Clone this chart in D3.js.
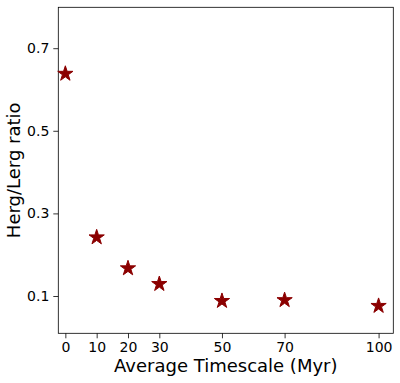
<!DOCTYPE html>
<html>
<head>
<meta charset="utf-8">
<script src="https://cdn.jsdelivr.net/npm/d3@7"></script>
<style>
  body { margin: 0; background: #fff; }
  text { font-family: "DejaVu Sans", sans-serif; fill: #000; }
</style>
</head>
<body>
<svg id="chart" width="400" height="383"></svg>
<script>
// timescale (Myr) and Herg/Lerg ratio
var timescales = [0, 10, 20, 30, 50, 70, 100];
var ratios = [0.638, 0.242, 0.167, 0.129, 0.088, 0.090, 0.076];
var xTicks = [0, 10, 20, 30, 50, 70, 100];
var yTicks = [0.1, 0.3, 0.5, 0.7];

var margin = {left: 58.3, top: 7.3, right: 6.7, bottom: 49.7},
  width = 400 - margin.left - margin.right,
  height = 383 - margin.top - margin.bottom;

var svg = d3.select("#chart");
var g = svg.append("g")
  .attr("transform", "translate(" + margin.left + "," + margin.top + ")");

var x = d3.scaleLinear().domain([-2.25, 104.7]).range([0, width]);
var y = d3.scaleLinear().domain([0.0097, 0.799]).range([height, 0]);

var xAxis = g.append("g")
  .attr("transform", "translate(0," + height + ")")
  .call(d3.axisBottom(x).tickValues(xTicks).tickSize(5).tickPadding(4));
var yAxis = g.append("g")
  .call(d3.axisLeft(y).tickValues(yTicks).tickFormat(d3.format(".1f")).tickSize(5).tickPadding(4));

[xAxis, yAxis].forEach(function(a){
  a.select(".domain").remove();
  a.selectAll("text").style("font-size", "14px").attr("font-family", null);
  a.selectAll("line").attr("stroke", "#000").attr("stroke-width", 0.8);
});

g.append("rect")
  .attr("width", width)
  .attr("height", height)
  .attr("fill", "none")
  .attr("stroke", "#000")
  .attr("stroke-width", 0.8);

var star = d3.symbol().type(d3.symbolStar).size(72);

g.selectAll("path.pt")
  .data(timescales)
  .enter()
  .append("path")
  .attr("class", "pt")
  .attr("d", star)
  .attr("transform", function(d, i){
    return "translate(" + x(d) + "," + y(ratios[i]) + ")";
  })
  .attr("fill", "#8b0000")
  .attr("stroke", "#8b0000")
  .attr("stroke-width", 1);

svg.append("text")
  .attr("x", margin.left + width / 2)
  .attr("y", 372)
  .attr("text-anchor", "middle")
  .style("font-size", "18px")
  .text("Average Timescale (Myr)");

svg.append("text")
  .attr("transform", "translate(20," + (margin.top + height / 2) + ") rotate(-90)")
  .attr("text-anchor", "middle")
  .style("font-size", "18px")
  .text("Herg/Lerg ratio");
</script>
</body>
</html>
